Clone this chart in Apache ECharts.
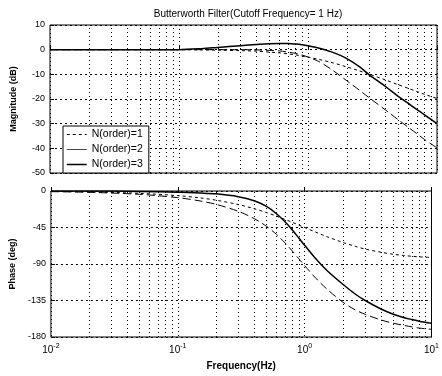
<!DOCTYPE html>
<html>
<head>
    <meta charset="utf-8">
    <title>Butterworth Filter</title>
    <script src="https://cdn.jsdelivr.net/npm/echarts@6/dist/echarts.min.js"></script>
</head>
<body style="margin:0;background:#fff">
<div id="main" style="width:442px;height:376px;"></div>

<script>
    // frequencies (Hz) and values
    var freqs = [0.01, 0.02, 0.05, 0.1, 0.15, 0.2, 0.3, 0.4, 0.5, 0.6, 0.7, 0.8, 0.9, 1, 1.2, 1.5, 2, 2.5, 3, 4, 5, 6, 7, 8, 10];
    var mag1 = [0, 0, 0, 0, -0.1, -0.2, -0.4, -0.6, -1.0, -1.3, -1.7, -2.1, -2.6, -3.0, -3.9, -5.1, -7.0, -8.6, -10.0, -12.3, -14.2, -15.7, -17.0, -18.1, -19.8];
    var mag2 = [0, 0, 0, 0, 0, 0, 0, -0.1, -0.3, -0.5, -1.0, -1.5, -2.2, -3.0, -4.7, -7.8, -12.6, -16.4, -19.6, -24.5, -28.4, -31.5, -34.1, -36.4, -39.8];
    var mag3 = [0, 0, 0, 0, 0.4, 0.9, 1.6, 2.1, 2.4, 2.5, 2.5, 2.3, 2.0, 1.6, 0.7, -0.8, -3.6, -6.9, -10.3, -15.0, -18.9, -21.8, -24.3, -26.4, -30.0];
    var ph1 = [-0.6, -1.1, -2.9, -5.7, -8.5, -11.3, -16.7, -21.8, -26.6, -31.0, -35.0, -38.7, -42.0, -45.0, -50.2, -56.3, -63.4, -68.2, -71.6, -75.5, -78.0, -79.5, -80.5, -81.2, -82.0];
    var ph2 = [-0.8, -1.6, -4.1, -8.2, -12.3, -16.4, -25.0, -34.0, -43.5, -53.5, -64.0, -74.0, -83.5, -92.0, -106.0, -121.0, -137.0, -146.5, -152.0, -159.0, -163.0, -165.5, -167.5, -169.0, -170.5];
    var ph3 = [0, 0, -0.5, -1.5, -2.5, -3.5, -7.0, -12.0, -19.0, -28.0, -38.0, -48.0, -58.0, -67.0, -82.0, -98.0, -115.0, -127.0, -135.0, -145.5, -152.0, -156.0, -158.5, -160.5, -163.0];
    var names = ['N(order)=1', 'N(order)=2', 'N(order)=3'];

    // minor grid lines 2..9 x 10^k
    var minorGrid = [];
    [0.01, 0.1, 1].forEach(function (d) {
        for (var k = 2; k <= 9; k++) minorGrid.push({xAxis: +(d * k).toFixed(3)});
    });

    var font = 'Liberation Sans, Arial, sans-serif';
    var dotted = {color: '#000', width: 1, type: [1, 3]};
    var styles = [
        {color: '#000', width: 1, type: [3, 3]},
        {color: '#000', width: 1, type: [8, 4]},
        {color: '#000', width: 1.5, type: 'solid'}
    ];

    function pairs(arr) {
        return freqs.map(function (f, i) { return [f, arr[i]]; });
    }

    function xAxis(idx, withLabels) {
        return {
            type: 'log', logBase: 10, gridIndex: idx, min: 0.01, max: 10,
            axisLine: {show: false},
            axisTick: {show: true, inside: true, length: 4, lineStyle: {color: '#000'}},
            splitLine: {show: true, lineStyle: dotted},
            axisLabel: {
                show: withLabels, margin: 6, color: '#000',
                formatter: function (v) {
                    return '{b|10}{s|' + Math.round(Math.log10(v)) + '}';
                },
                rich: {
                    b: {fontSize: 10, fontFamily: font, color: '#000'},
                    s: {fontSize: 7, fontFamily: font, color: '#000', verticalAlign: 'bottom', padding: [0, 0, 8, 0]}
                }
            },
            name: withLabels ? 'Frequency(Hz)' : '',
            nameLocation: 'middle', nameGap: 24,
            nameTextStyle: {fontSize: 10, fontFamily: font, color: '#000', fontWeight: 'bold'}
        };
    }

    function yAxis(idx, min, max, step, title) {
        return {
            type: 'value', gridIndex: idx, min: min, max: max, interval: step,
            axisLine: {show: false},
            axisTick: {show: true, inside: true, length: 4, lineStyle: {color: '#000'}},
            splitLine: {show: true, lineStyle: {color: '#000', width: 1, type: [2, 3]}},
            axisLabel: {fontSize: 9, fontFamily: font, color: '#000', margin: 5},
            name: title, nameLocation: 'middle', nameGap: 32,
            nameTextStyle: {fontSize: 9, fontFamily: font, color: '#000', fontWeight: 'bold'}
        };
    }

    var series = [];
    [[mag1, ph1], [mag2, ph2], [mag3, ph3]].forEach(function (pr, n) {
        [0, 1].forEach(function (g) {
            var s = {
                name: names[n], type: 'line', xAxisIndex: g, yAxisIndex: g,
                data: pairs(pr[g]), symbol: 'none', smooth: 0.3,
                lineStyle: styles[n], color: '#000', silent: true, z: 3 + n
            };
            if (n === 0) {
                s.markLine = {
                    silent: true, symbol: 'none', label: {show: false},
                    lineStyle: dotted, data: minorGrid, animation: false
                };
            }
            series.push(s);
        });
    });

    var myChart = echarts.init(document.getElementById('main'));
    myChart.setOption({
        animation: false,
        backgroundColor: '#fff',
        title: {
            text: 'Butterworth Filter(Cutoff Frequency= 1 Hz)',
            left: 243, top: 4, textAlign: 'center',
            textStyle: {fontSize: 10, fontFamily: font, color: '#000', fontWeight: 'normal'}
        },
        legend: {
            orient: 'vertical', left: 63, top: 126, z: 10,
            padding: [3, 6, 3, 3], itemGap: 4, itemWidth: 20, itemHeight: 10,
            backgroundColor: '#fff', borderColor: '#000', borderWidth: 1,
            itemStyle: {opacity: 0},
            textStyle: {fontSize: 10.5, fontFamily: font, color: '#000'},
            data: [
                {name: names[0], lineStyle: styles[0]},
                {name: names[1], lineStyle: {color: '#444', width: 1, type: 'solid'}},
                {name: names[2], lineStyle: styles[2]}
            ]
        },
        grid: [
            {left: 50, right: 5, top: 25, height: 148, show: true, borderColor: '#000', borderWidth: 1, backgroundColor: 'transparent'},
            {left: 50, right: 5, top: 191, height: 146, show: true, borderColor: '#000', borderWidth: 1, backgroundColor: 'transparent'}
        ],
        xAxis: [xAxis(0, false), xAxis(1, true)],
        yAxis: [yAxis(0, -50, 10, 10, 'Magnitude (dB)'), yAxis(1, -180, 0, 45, 'Phase (deg)')],
        series: series
    });
</script>
</body>
</html>
